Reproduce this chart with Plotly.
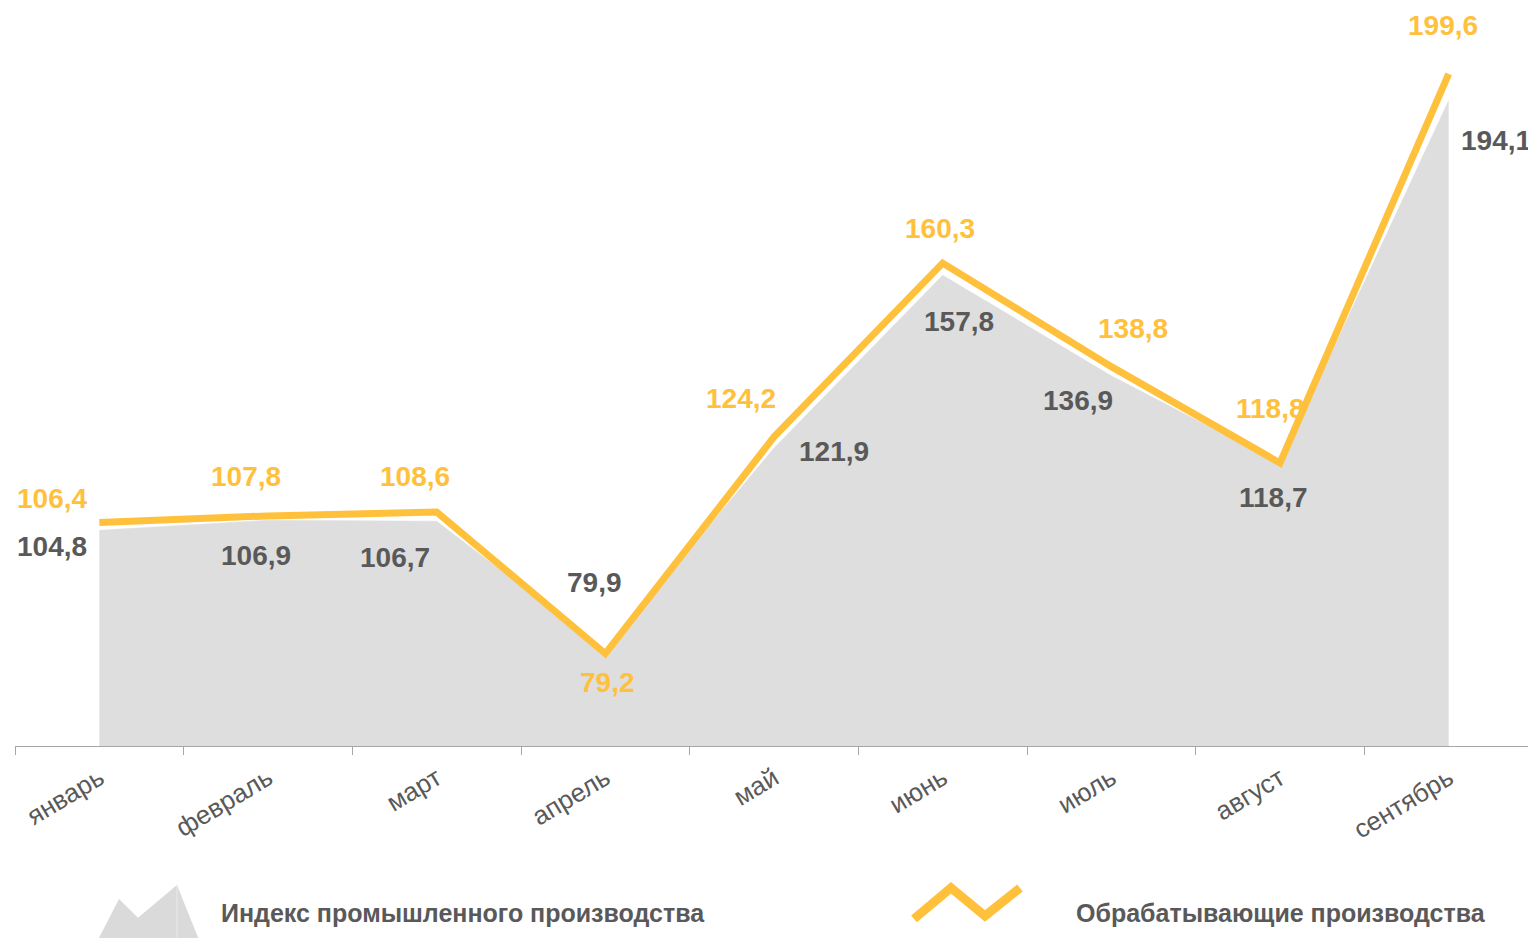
import plotly.graph_objects as go

months = ["январь", "февраль", "март", "апрель", "май", "июнь", "июль", "август", "сентябрь"]
index_values = [104.8, 106.9, 106.7, 79.9, 121.9, 157.8, 136.9, 118.7, 194.1]
manuf_values = [106.4, 107.8, 108.6, 79.2, 124.2, 160.3, 138.8, 118.8, 199.6]
series_names = ["Индекс промышленного производства", "Обрабатывающие производства"]

# label offsets (pixels) relative to points: (dx, dy-up)
manuf_offsets = [(-47, 24), (-22, 39), (-22, 36), (2, -29), (-33, 38), (-3, 35), (22, 38), (-10, 54), (-6, 48)]
index_offsets = [(-47, -16), (-12, -35), (-42, -36), (-11, 68), (60, -3), (16, -46), (-33, -25), (-7, -34), (47, -40)]

GRAY_FILL = "#DEDEDE"
YELLOW = "#FFC13B"
TEXT_GRAY = "#595959"
FONT = "Arial, Liberation Sans, sans-serif"

# page has an 8px body margin; figure starts at (8, 8)
OFF = 8
W, H = 1528, 930
ML, MR, MT, MB = 7, 3, 63.5, 192
PW, PH = W - ML - MR, H - MT - MB


def fmt(v):
    return f"{v:.1f}".replace(".", ",")


def px(x, y):
    # screen pixel -> paper coordinates
    return (x - OFF - ML) / PW, (H - MB - (y - OFF)) / PH


fig = go.Figure()
fig.add_trace(go.Scatter(
    x=months, y=index_values, mode="lines", fill="tozeroy",
    fillcolor=GRAY_FILL, line=dict(color=GRAY_FILL, width=0.5),
    name=series_names[0], hoverinfo="skip"))
fig.add_trace(go.Scatter(
    x=months, y=manuf_values, mode="lines",
    line=dict(color=YELLOW, width=7), name=series_names[1], hoverinfo="skip"))

annotations = []
for m, v, (dx, dy) in zip(months, manuf_values, manuf_offsets):
    annotations.append(dict(x=m, y=v, xref="x", yref="y", text=fmt(v), showarrow=False,
                            xshift=dx, yshift=dy, xanchor="center", yanchor="middle",
                            font=dict(family=FONT, size=28, color=YELLOW, weight="bold")))
for m, v, (dx, dy) in zip(months, index_values, index_offsets):
    annotations.append(dict(x=m, y=v, xref="x", yref="y", text=fmt(v), showarrow=False,
                            xshift=dx, yshift=dy, xanchor="center", yanchor="middle",
                            font=dict(family=FONT, size=28, color=TEXT_GRAY, weight="bold")))

# legend texts
lx1, ly1 = px(219, 913)
lx2, ly2 = px(1074, 913)
annotations.append(dict(x=lx1, y=ly1, xref="paper", yref="paper", text=series_names[0],
                        showarrow=False, xanchor="left", yanchor="middle",
                        font=dict(family=FONT, size=25, color=TEXT_GRAY, weight="bold")))
annotations.append(dict(x=lx2, y=ly2, xref="paper", yref="paper", text=series_names[1],
                        showarrow=False, xanchor="left", yanchor="middle",
                        font=dict(family=FONT, size=25, color=TEXT_GRAY, weight="bold")))


def path(points, close=False):
    s = ""
    for i, (x, y) in enumerate(points):
        X, Y = px(x, y)
        s += ("M" if i == 0 else "L") + f"{X:.5f},{Y:.5f} "
    return s + ("Z" if close else "")


shapes = [
    dict(type="path", xref="paper", yref="paper",
         path=path([(98, 940), (119, 899), (138, 918), (177, 885), (199, 940)], close=True),
         fillcolor="#DADADA", line=dict(width=0)),
    dict(type="path", xref="paper", yref="paper",
         path=path([(177, 885), (177, 940)]), line=dict(color="#EAEAEA", width=1)),
    dict(type="path", xref="paper", yref="paper",
         path=path([(914, 919), (951, 888), (985, 916), (1020, 888)]),
         line=dict(color=YELLOW, width=9)),
]

fig.update_layout(
    width=W, height=H,
    margin=dict(l=ML, r=MR, t=MT, b=MB),
    paper_bgcolor="white", plot_bgcolor="white",
    showlegend=False,
    annotations=annotations,
    shapes=shapes,
    xaxis=dict(type="category", range=[-0.5, 8.5], showline=True, linecolor="#A6A6A6", linewidth=1,
               ticks="outside", tickson="boundaries", ticklen=8, tickcolor="#A6A6A6",
               tickangle=-31, ticklabelstandoff=6, showgrid=False, zeroline=False,
               tickfont=dict(family=FONT, size=26, color=TEXT_GRAY)),
    yaxis=dict(range=[60, 200], visible=False, showgrid=False, zeroline=False),
)

fig.write_html("out.html")
